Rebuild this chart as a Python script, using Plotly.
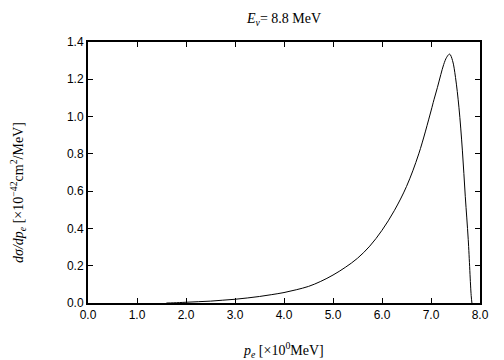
import plotly.graph_objects as go

# electron momentum p_e [MeV]
p_e = [1.6, 1.75, 2.0, 2.25, 2.5, 2.75, 3.0, 3.25, 3.5, 3.75, 4.0, 4.25, 4.5,
       4.75, 5.0, 5.25, 5.5, 5.75, 6.0, 6.25, 6.5, 6.75, 7.0, 7.06, 7.13, 7.2,
       7.26, 7.32, 7.38, 7.44, 7.5, 7.57, 7.64, 7.7, 7.76, 7.82, 7.835]
# d sigma / d p_e [1e-42 cm^2/MeV]
dsigma = [0.0, 0.001, 0.004, 0.007, 0.010, 0.015, 0.020, 0.027, 0.035, 0.045,
          0.056, 0.071, 0.089, 0.116, 0.150, 0.191, 0.240, 0.305, 0.390, 0.495,
          0.625, 0.800, 1.030, 1.090, 1.155, 1.225, 1.280, 1.318, 1.335, 1.300,
          1.210, 1.050, 0.820, 0.570, 0.340, 0.040, 0.0]

x_ticks = [0, 1, 2, 3, 4, 5, 6, 7, 8]
y_ticks = [0.0, 0.2, 0.4, 0.6, 0.8, 1.0, 1.2, 1.4]

serif = "Liberation Serif, Times New Roman, serif"
sans = "Liberation Sans, Arial, Helvetica, sans-serif"

fig = go.Figure()
fig.add_trace(go.Scatter(x=p_e, y=dsigma, mode="lines",
                         line=dict(color="black", width=1, shape="spline", smoothing=1.0),
                         showlegend=False))

axis_common = dict(showgrid=False, zeroline=False, showline=True, linecolor="black",
                   linewidth=2, mirror="ticks", ticks="inside", ticklen=5, tickwidth=1,
                   tickcolor="black", tickfont=dict(family=sans, size=12, color="black"))

W, H = 496, 352
L, R, T, B = 80, 24, 34, 57
pw, ph = W - L - R, H - T - B
fig.update_layout(
    width=W, height=H,
    margin=dict(l=L, r=R, t=T, b=B),
    paper_bgcolor="white", plot_bgcolor="white",
    title=dict(text="<i>E<sub>ν</sub></i>= 8.8 MeV", x=(L + W - R) / 2 / W, xanchor="center",
               y=1 - 10 / H, yanchor="middle", font=dict(family=serif, size=14, color="black")),
    xaxis=dict(range=[0, 8], tickvals=x_ticks, ticktext=[f"{v:.1f}" for v in x_ticks],
               automargin=False, **axis_common),
    yaxis=dict(range=[0, 1.4], tickvals=y_ticks, ticktext=[f"{v:.1f}" for v in y_ticks],
               automargin=False, **axis_common),
)
fig.add_annotation(text="<i>p<sub>e</sub></i> [×10<sup>0</sup>MeV]", xref="paper", yref="paper",
                   x=(275 - L) / pw, y=-(342 - (H - B)) / ph, xanchor="center", yanchor="middle",
                   showarrow=False, font=dict(family=serif, size=14, color="black"))
fig.add_annotation(text="<i>dσ/dp<sub>e</sub></i> [×10<sup>−42</sup>cm<sup>2</sup>/MeV]",
                   xref="paper", yref="paper", textangle=-90,
                   x=(10 - L) / pw, y=((H - B) - 185) / ph, xanchor="center", yanchor="middle",
                   showarrow=False, font=dict(family=serif, size=14, color="black"))

fig.write_html("out.html")
